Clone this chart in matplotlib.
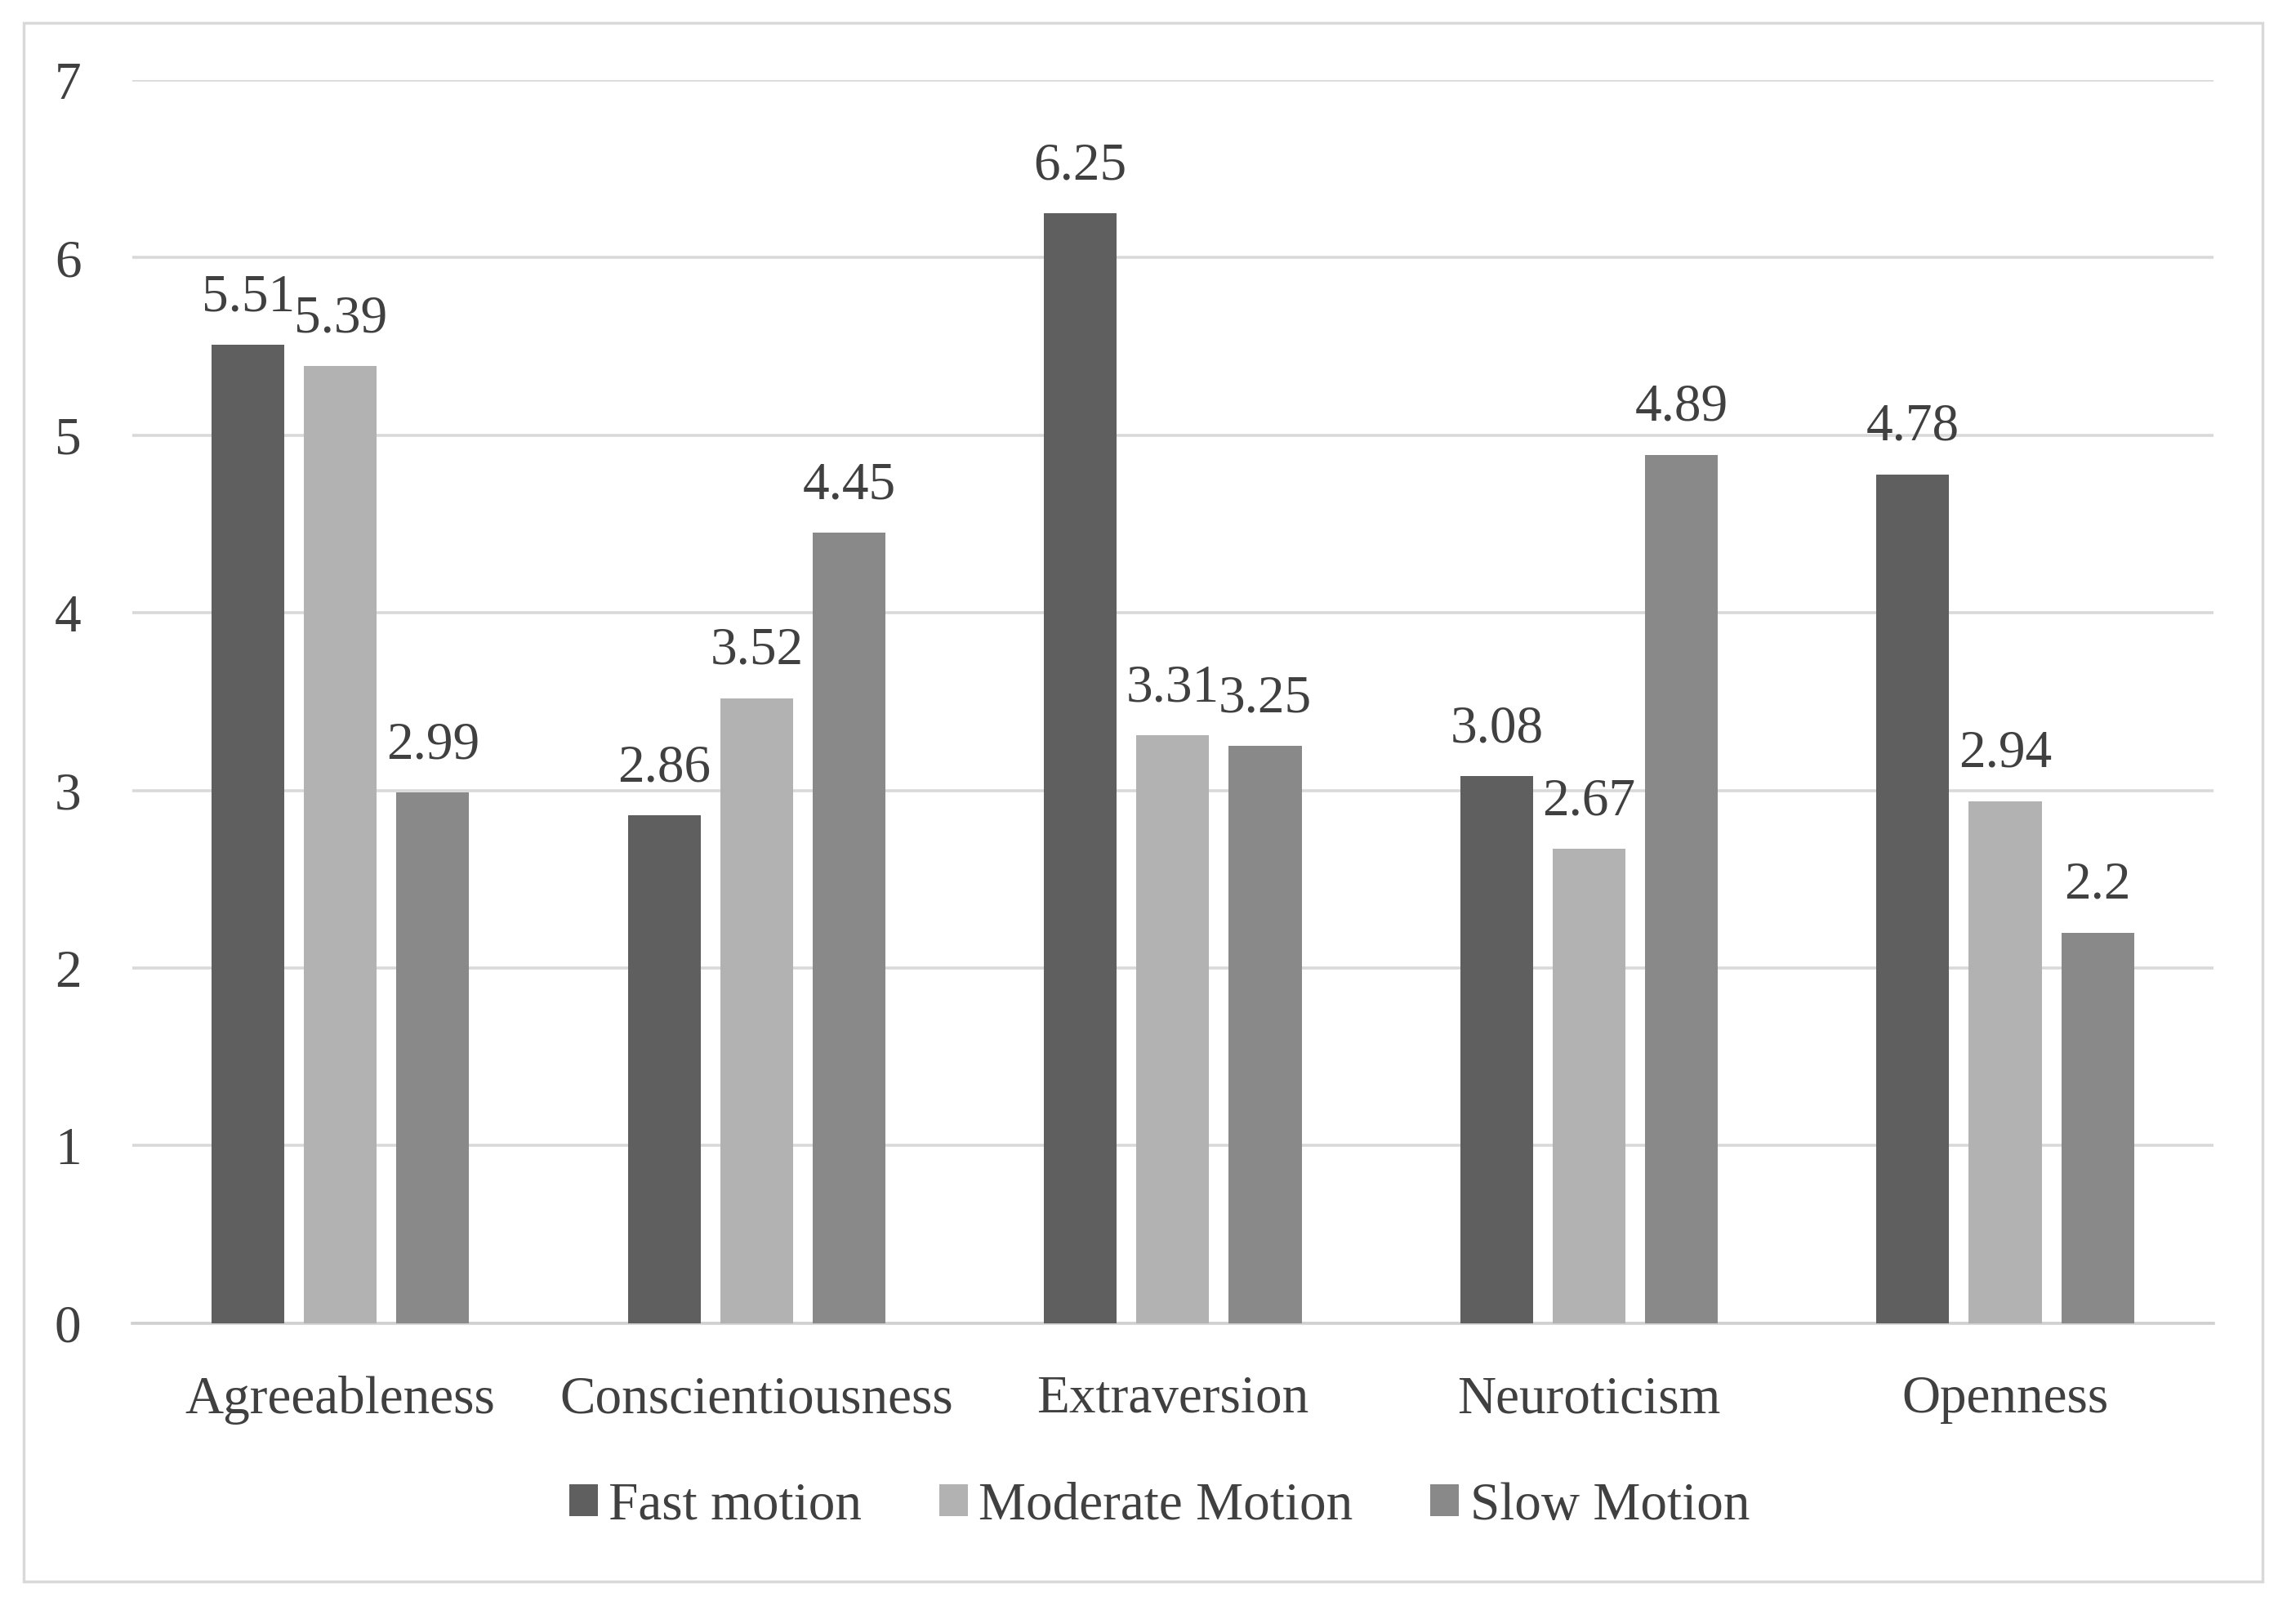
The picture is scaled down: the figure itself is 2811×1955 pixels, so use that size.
import numpy as np
import matplotlib.pyplot as plt
from matplotlib.patches import Rectangle

# ── Data ───────────────────────────────────────────────────────────────
categories = ["Agreeableness", "Conscientiousness", "Extraversion", "Neuroticism", "Openness"]
series_names = ["Fast motion", "Moderate Motion", "Slow Motion"]
fast = [5.51, 2.86, 6.25, 3.08, 4.78]
moderate = [5.39, 3.52, 3.31, 2.67, 2.94]
slow = [2.99, 4.45, 3.25, 4.89, 2.2]
yticks = [0, 1, 2, 3, 4, 5, 6, 7]

colors = ["#5f5f5f", "#b2b2b2", "#898989"]
text_color = "#404040"
grid_color = "#d9d9d9"

plt.rcParams["font.family"] = ["Liberation Serif", "DejaVu Serif"]
FS = 47

fig = plt.figure(figsize=(28.11, 19.55), dpi=100)
ax = fig.add_axes([0.0576, 0.1714, 0.9064, 0.7785])

# outer chart border
fig.patches.append(Rectangle((0.0103, 0.0097), 0.9751, 0.976, transform=fig.transFigure,
                             fill=False, edgecolor="#d9d9d9", linewidth=2.5))

x = np.arange(len(categories))
width = 0.175
step = 0.222
for k, (vals, name) in enumerate(zip([fast, moderate, slow], series_names)):
    pos = x + (k - 1) * step
    bars = ax.bar(pos, vals, width=width, color=colors[k], label=name, zorder=3)
    for b, v in zip(bars, vals):
        ax.annotate(f"{v:g}", (b.get_x() + b.get_width() / 2, v),
                    xytext=(0, 20), textcoords="offset points",
                    ha="center", va="bottom", fontsize=FS, color=text_color)

ax.set_xlim(-0.5, len(categories) - 0.5)
ax.set_ylim(0, 7)
ax.set_yticks(yticks)
ax.set_xticks(x)
ax.set_xticklabels(categories)
ax.tick_params(axis="both", length=0, labelsize=FS, labelcolor=text_color)
ax.tick_params(axis="y", pad=45)
ax.tick_params(axis="x", pad=46)
ax.yaxis.grid(True, color=grid_color, linewidth=2.6, zorder=0)
ax.set_axisbelow(True)
for s in ["top", "right", "left"]:
    ax.spines[s].set_visible(False)
ax.spines["bottom"].set_color("#d0d0d0")
ax.spines["bottom"].set_linewidth(2.6)

leg = fig.legend(loc="center", bbox_to_anchor=(0.505, 0.0568), ncol=3, frameon=False,
                 fontsize=FS, handlelength=0.54, handleheight=0.54, handletextpad=0.2,
                 columnspacing=1.45)
for t in leg.get_texts():
    t.set_color(text_color)

fig.savefig("out.png", dpi=100)
